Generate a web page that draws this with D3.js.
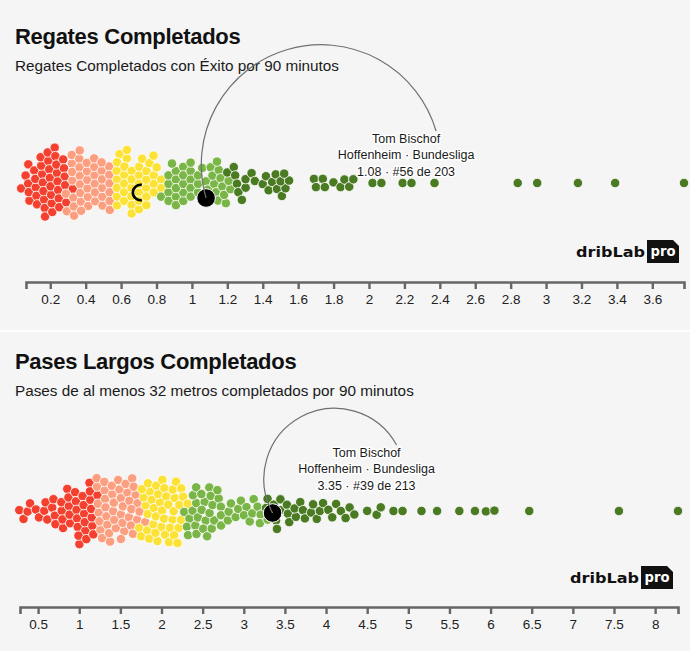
<!DOCTYPE html>
<html>
<head>
<meta charset="utf-8">
<script src="https://cdn.jsdelivr.net/npm/d3@7"></script>
<style>
  html, body { margin: 0; padding: 0; background: #f5f5f5; }
  svg { display: block; }
</style>
</head>
<body>
<svg id="chart" width="690" height="651"></svg>
<script>
// ---------------- DATA ----------------
const titles = ["Regates Completados", "Pases Largos Completados"];
const subtitles = [
  "Regates Completados con Éxito por 90 minutos",
  "Pases de al menos 32 metros completados por 90 minutos"
];
const playerName = "Tom Bischof";
const playerTeam = "Hoffenheim · Bundesliga";
const highlightValues = [1.08, 3.35];
const ringValues = [0.71, null];

// Successful dribbles per 90 (203 players)
const dribbles = [
  0.063,0.074,0.089,0.096,0.105,0.111,0.119,0.123,0.132,0.136,0.143,0.147,0.154,0.158,0.164,0.167,0.173,0.176,0.182,0.185,
  0.191,0.193,0.2,0.204,0.207,0.213,0.216,0.222,0.225,0.232,0.235,0.242,0.245,0.252,0.255,0.263,0.267,0.275,0.28,0.29,0.296,
  0.303,0.307,0.315,0.318,0.326,0.33,0.338,0.341,0.349,0.353,0.361,0.365,0.372,0.376,0.384,0.388,0.396,0.4,0.408,0.412,
  0.42,0.424,0.432,0.436,0.444,0.448,0.456,0.46,0.468,0.472,0.48,0.484,0.492,0.497,0.506,0.511,0.52,0.526,0.536,0.543,0.554,
  0.559,0.562,0.57,0.573,0.581,0.585,0.592,0.596,0.604,0.608,0.615,0.619,0.627,0.631,0.639,0.643,0.651,0.655,0.663,0.667,
  0.675,0.679,0.687,0.691,0.7,0.705,0.714,0.719,0.729,0.735,0.745,0.751,0.762,0.769,0.78,0.788,0.801,0.81,0.825,0.837,
  0.849,0.855,0.865,0.87,0.88,0.885,0.895,0.9,0.91,0.915,0.925,0.93,0.94,0.945,0.955,0.961,0.971,0.977,0.987,0.994,
  1.005,1.013,1.027,1.04,1.059,1.08,1.095,1.102,1.113,1.119,1.129,1.134,1.143,1.148,1.157,1.162,1.171,1.177,1.187,1.194,1.206,
  1.218,1.227,1.238,1.249,1.262,1.276,1.29,1.31,1.33,1.36,
  1.40,1.42,1.44,1.46,1.475,1.49,1.505,1.51,1.515,1.52,1.525,
  1.69,1.70,1.74,1.75,1.80,1.84,1.86,1.89,1.91,
  2.02,2.07,2.19,2.24,2.37,
  2.84,2.95,3.18,3.39,3.779
];

// Long passes (32m+) completed per 90 (213 players)
const longPasses = [
  0.28,0.33,0.365,0.40,0.475,
  0.52,0.57,0.6,0.64,0.66,0.7,0.72,0.76,0.78,0.8,0.825,0.84,0.865,0.88,0.9,0.925,0.94,0.955,0.972,0.985,
  1.0,1.018,1.03,1.047,1.06,1.077,1.088,1.1,1.108,1.121,1.13,1.142,1.15,1.161,1.17,1.182,1.195,1.21,
  1.225,1.233,1.246,1.254,1.266,1.274,1.286,1.296,1.31,1.32,1.334,1.344,1.358,1.368,1.382,1.392,1.406,1.416,1.43,1.44,
  1.454,1.464,1.478,1.488,1.502,1.512,1.526,1.536,1.55,1.56,1.574,1.585,1.6,1.611,1.626,1.637,1.653,1.665,1.681,1.694,1.711,1.726,1.746,
  1.76,1.771,1.785,1.795,1.809,1.819,1.833,1.843,1.857,1.867,1.881,1.891,1.905,1.915,1.929,1.939,1.953,1.963,1.977,1.987,
  2.001,2.011,2.025,2.035,2.049,2.059,2.073,2.083,2.097,2.107,2.121,2.131,2.145,2.155,2.169,2.179,2.195,2.207,2.223,2.237,2.256,2.274,
  2.29,2.304,2.321,2.334,2.351,2.364,2.381,2.394,2.411,2.424,2.441,2.454,2.471,2.484,2.501,2.514,2.531,2.544,2.561,2.574,
  2.591,2.604,2.621,2.634,2.652,2.668,2.691,2.712,2.77,2.80,2.84,
  2.92,2.95,2.98,3.01,3.04,3.07,3.10,3.13,3.16,3.19,3.22,3.26,
  3.28,3.31,3.33,3.35,3.37,3.40,3.43,3.46,3.50,3.53,3.56,3.60,3.63,3.68,3.72,3.75,3.79,3.84,3.88,3.93,3.97,4.02,4.07,
  4.13,4.18,4.23,4.29,4.34,4.50,4.62,4.66,4.82,4.93,5.16,5.35,5.62,5.81,5.97,6.02,6.47,7.56,8.278
];

const ticks1 = [0.2,0.4,0.6,0.8,1,1.2,1.4,1.6,1.8,2,2.2,2.4,2.6,2.8,3,3.2,3.4,3.6];
const ticks2 = [0.5,1,1.5,2,2.5,3,3.5,4,4.5,5,5.5,6,6.5,7,7.5,8];

const quintileColors = ["#f4412f", "#fb9f80", "#fce236", "#7ab547", "#4a7a21"];

// ---------------- LAYOUT ----------------
const W = 690, H = 651;
const FONT = "'Liberation Sans', Arial, Helvetica, sans-serif";

const panels = [
  { title: titles[0], subtitle: subtitles[0], values: dribbles, ticks: ticks1,
    hv: highlightValues[0], ring: ringValues[0],
    range: [26, 684], titleY: 44, subY: 71, cy: 183, hiDy: 15, axisY: 282, labelDx: 200, labelTop: 143, logoY: 240 },
  { title: titles[1], subtitle: subtitles[1], values: longPasses, ticks: ticks2,
    hv: highlightValues[1], ring: ringValues[1],
    range: [20, 678], titleY: 369, subY: 396, cy: 511, hiDy: 2, axisY: 607, labelDx: 94, labelTop: 457, logoY: 566 }
];

const svg = d3.select("#chart");
svg.append("rect").attr("width", W).attr("height", H).attr("fill", "#f5f5f5");
svg.append("rect").attr("x", 0).attr("y", 330).attr("width", W).attr("height", 1.6).attr("fill", "#ffffff");

panels.forEach(p => {
  const g = svg.append("g");
  const x = d3.scaleLinear().domain(d3.extent(p.values)).range(p.range);

  // titles
  g.append("text").attr("x", 15).attr("y", p.titleY)
    .attr("font-family", FONT).attr("font-weight", 700).attr("font-size", 22)
    .attr("letter-spacing", -0.3).attr("fill", "#111").text(p.title);
  g.append("text").attr("x", 15).attr("y", p.subY)
    .attr("font-family", FONT).attr("font-size", 15.3)
    .attr("fill", "#1a1a1a").text(p.subtitle);

  // rank-based quintile colouring
  const n = p.values.length;
  const order = p.values.map((v, i) => ({ v, i })).sort((a, b) => a.v - b.v);
  const hiIdx = p.values.indexOf(p.hv);
  let hiRankPos = 0;
  const nodes = order.map((d, k) => {
    if (d.i === hiIdx) hiRankPos = k;
    const hi = d.i === hiIdx;
    const node = { v: d.v, q: Math.floor(k * 5 / n), hi, x: x(d.v), y: p.cy };
    if (hi) { node.fx = x(d.v); node.fy = p.cy + p.hiDy; }
    return node;
  });
  const rank = n - hiRankPos;

  const sim = d3.forceSimulation(nodes)
    .force("x", d3.forceX(d => x(d.v)).strength(0.6))
    .force("y", d3.forceY(p.cy).strength(0.08))
    .force("collide", d3.forceCollide(d => d.hi ? 4 : 4.25).iterations(2))
    .stop();
  for (let i = 0; i < 400; i++) sim.tick();

  // dots
  g.append("g").selectAll("circle").data(nodes.filter(d => !d.hi)).join("circle")
    .attr("cx", d => d.x).attr("cy", d => d.y).attr("r", 4.7)
    .attr("fill", d => quintileColors[d.q])
    .attr("stroke", "#fff").attr("stroke-width", 0.8);

  // ring marker
  if (p.ring !== null) {
    const ringArc = d3.arc().innerRadius(6.4).outerRadius(9.0)
      .startAngle(Math.PI * 0.95).endAngle(Math.PI * 2.05);
    g.append("path").attr("d", ringArc())
      .attr("transform", `translate(${x(p.ring)},${p.cy + 9.5})`)
      .attr("fill", "#000");
  }

  const hn = nodes.find(d => d.hi);
  g.append("circle").attr("cx", hn.x).attr("cy", hn.y).attr("r", 9.3)
    .attr("fill", "#000").attr("stroke", "#fff").attr("stroke-width", 1);

  // annotation
  const lx = hn.x + p.labelDx, ly = p.labelTop;
  const x1 = hn.x, y1 = hn.y, x2 = lx + 30, y2 = ly - 12;
  const r = Math.hypot(x2 - x1, y2 - y1) / 2;
  g.append("path").attr("d", `M${x1},${y1} A${r},${r} 0 0 1 ${x2},${y2}`)
    .attr("fill", "none").attr("stroke", "#707070").attr("stroke-width", 1.2);

  const lines = [playerName, playerTeam, `${d3.format(".2f")(p.hv)} · #${rank} de ${n}`];
  g.append("g").selectAll("text").data(lines).join("text")
    .attr("x", lx).attr("y", (d, i) => ly + i * 16.3)
    .attr("text-anchor", "middle")
    .attr("font-family", FONT).attr("font-size", 12.5)
    .attr("fill", "#1a1a1a")
    .attr("stroke", "#fff").attr("stroke-width", 3).attr("stroke-linejoin", "round")
    .attr("paint-order", "stroke")
    .text(d => d);

  // axis
  const axis = d3.axisBottom(x).tickValues(p.ticks).tickSize(7).tickPadding(5)
    .tickFormat(d3.format("~g"));
  const ag = g.append("g").attr("transform", `translate(0,${p.axisY})`).call(axis);
  ag.select(".domain").attr("stroke", "#666").attr("stroke-width", 2.6);
  ag.selectAll(".tick line").attr("stroke", "#666").attr("stroke-width", 2.4);
  ag.selectAll(".tick text").attr("font-family", FONT).attr("font-size", 13.5)
    .attr("fill", "#222");

  // logo
  const lr = p.range[1] - 5, ty = p.logoY;
  const bw = 32, bh = 23, notch = 6;
  g.append("path")
    .attr("d", `M${lr - bw},${ty} H${lr - notch} L${lr},${ty + notch} V${ty + bh} H${lr - bw} Z`)
    .attr("fill", "#111");
  g.append("text").attr("x", lr - bw / 2).attr("y", ty + 16)
    .attr("text-anchor", "middle")
    .attr("font-family", "'DejaVu Sans', sans-serif").attr("font-weight", 700).attr("font-size", 14)
    .attr("fill", "#fff").attr("textLength", 25).attr("lengthAdjust", "spacingAndGlyphs")
    .text("pro");
  g.append("text").attr("x", lr - bw - 2).attr("y", ty + 17)
    .attr("text-anchor", "end")
    .attr("font-family", "'DejaVu Sans', sans-serif").attr("font-weight", 700).attr("font-size", 13.5)
    .attr("fill", "#111").attr("textLength", 69).attr("lengthAdjust", "spacingAndGlyphs")
    .text("dribLab");
});
</script>
</body>
</html>
